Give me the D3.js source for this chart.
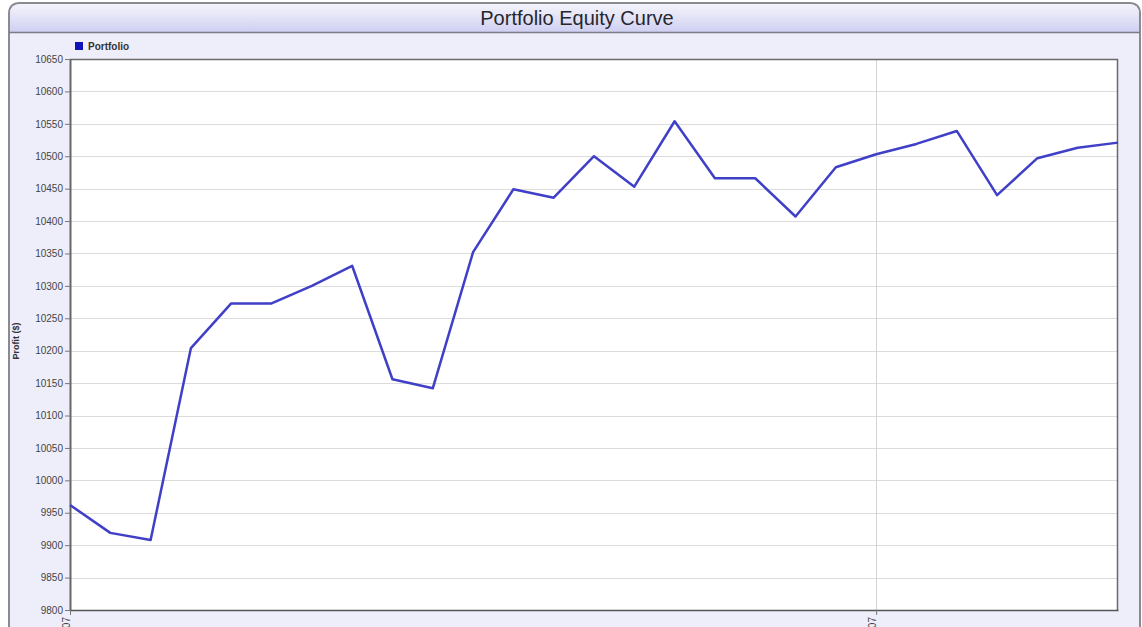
<!DOCTYPE html>
<html>
<head>
<meta charset="utf-8">
<script src="https://cdn.jsdelivr.net/npm/d3@7"></script>
<style>
body{margin:0;background:#fff;overflow:hidden;}
svg text{font-family:"Liberation Sans",Arial,sans-serif;}
</style>
</head>
<body>
<div id="plot"></div>
<script>
//data
var equity = [9962,9919,9908,10204,10273,10273,10300,10331,10156,10142,
	10352,10449,10436,10500,10453,10554,10466,10466,10407,10483,
	10503,10519,10539,10440,10497,10513,10521];
var yTicks = [9800,9850,9900,9950,10000,10050,10100,10150,10200,10250,10300,
	10350,10400,10450,10500,10550,10600,10650];
var xTickIndex = [0,20];
var xTickLabels = ['01/01/2007','02/01/2007'];
var seriesName = 'Portfolio';

var W = 1142, H = 627;
var margin = {t:59,r:24,b:17,l:70};
var width = W-margin.l-margin.r,
	height = H-margin.t-margin.b;

var svg = d3.select('#plot')
	.append('svg')
	.attr('width',W)
	.attr('height',H);

var defs = svg.append('defs');
var grad = defs.append('linearGradient')
	.attr('id','titleGrad')
	.attr('x1',0).attr('y1',0).attr('x2',0).attr('y2',1);
grad.append('stop').attr('offset','0%').attr('stop-color','#f4f4fb');
grad.append('stop').attr('offset','45%').attr('stop-color','#e4e4f6');
grad.append('stop').attr('offset','100%').attr('stop-color','#cfcff3');

//panel body
svg.append('path')
	.attr('d','M9,627 L9,14 Q9,3 20,3 L1129,3 Q1140,3 1140,14 L1140,627')
	.attr('fill','#eeeefb')
	.attr('stroke','#8a8a92')
	.attr('stroke-width',2);

//title bar
svg.append('path')
	.attr('d','M10,32 L10,14 Q10,4 20,4 L1129,4 Q1139,4 1139,14 L1139,32 Z')
	.attr('fill','url(#titleGrad)');
svg.append('line')
	.attr('x1',9).attr('x2',1140)
	.attr('y1',32.5).attr('y2',32.5)
	.attr('stroke','#7c7c86')
	.attr('stroke-width',1.5);
svg.append('text')
	.attr('x',577)
	.attr('y',25)
	.attr('text-anchor','middle')
	.attr('font-size',20)
	.attr('fill','#26262e')
	.text('Portfolio Equity Curve');

//legend
svg.append('rect')
	.attr('x',75).attr('y',42)
	.attr('width',8).attr('height',8)
	.attr('fill','#1111bb');
svg.append('text')
	.attr('x',88).attr('y',50)
	.attr('font-size',10)
	.attr('font-weight','bold')
	.attr('fill','#333')
	.text(seriesName);

var plot = svg.append('g')
	.attr('class','plot')
	.attr('transform','translate('+margin.l+','+margin.t+')');

var x = d3.scaleLinear()
	.domain([0,equity.length-1])
	.range([0,width]);
var y = d3.scaleLinear()
	.domain([9800,10650])
	.range([height,0]);

plot.append('rect')
	.attr('width',width)
	.attr('height',height)
	.attr('fill','#ffffff');

//grid
plot.selectAll('.hgrid')
	.data(yTicks)
	.enter()
	.append('line')
	.attr('class','hgrid')
	.attr('x1',0).attr('x2',width)
	.attr('y1',function(d){return Math.round(y(d))+0.5;})
	.attr('y2',function(d){return Math.round(y(d))+0.5;})
	.attr('stroke','#dcdcdc');
plot.selectAll('.vgrid')
	.data(xTickIndex.slice(1))
	.enter()
	.append('line')
	.attr('class','vgrid')
	.attr('x1',function(d){return Math.round(x(d))+0.5;})
	.attr('x2',function(d){return Math.round(x(d))+0.5;})
	.attr('y1',0).attr('y2',height)
	.attr('stroke','#d4d4d4');

//frame top/right
plot.append('path')
	.attr('d','M0,0.5 L'+(width-0.5)+',0.5 L'+(width-0.5)+','+height)
	.attr('fill','none')
	.attr('stroke','#6a6a6a')
	.attr('stroke-width',1.5);

//axes
var yAxis = d3.axisLeft(y)
	.tickValues(yTicks)
	.tickSize(5)
	.tickSizeOuter(0)
	.tickPadding(2)
	.tickFormat(d3.format('d'));
var yg = plot.append('g').call(yAxis);
yg.select('.domain').attr('stroke','#666').attr('stroke-width',2);
yg.selectAll('.tick line').attr('stroke','#777');
yg.selectAll('.tick text')
	.attr('font-size',10)
	.attr('fill','#444')
	.attr('font-family','"Liberation Sans",Arial,sans-serif');

var xAxis = d3.axisBottom(x)
	.tickValues(xTickIndex)
	.tickSize(5)
	.tickSizeOuter(0)
	.tickFormat(function(d,i){return xTickLabels[i];});
var xg = plot.append('g')
	.attr('transform','translate(0,'+height+')')
	.call(xAxis);
xg.select('.domain').attr('stroke','#555').attr('stroke-width',1.5);
xg.selectAll('.tick line').attr('stroke','#777');
xg.selectAll('.tick text')
	.attr('font-size',10)
	.attr('fill','#444')
	.attr('font-family','"Liberation Sans",Arial,sans-serif')
	.attr('text-anchor','end')
	.attr('transform','translate(-4,7) rotate(-90)')
	.attr('dy','0.35em')
	.attr('y',0);

//y title
svg.append('text')
	.attr('transform','translate(19,341) rotate(-90)')
	.attr('text-anchor','middle')
	.attr('font-size',9)
	.attr('font-weight','bold')
	.attr('fill','#333')
	.text('Profit ($)');

//equity line
var line = d3.line()
	.x(function(d,i){return x(i);})
	.y(function(d){return y(d);});
plot.append('path')
	.datum(equity)
	.attr('d',line)
	.attr('fill','none')
	.attr('stroke','#3f3fc8')
	.attr('stroke-width',2.5)
	.attr('stroke-linejoin','round');
</script>
</body>
</html>
